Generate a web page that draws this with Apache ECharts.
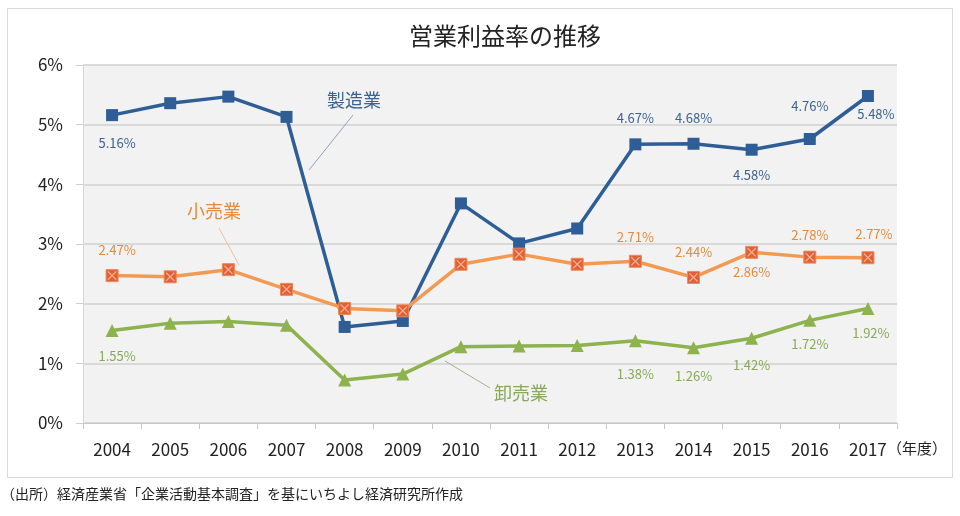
<!DOCTYPE html>
<html lang="ja">
  <head>
    <meta charset="UTF-8" />
    <title>営業利益率の推移</title>
    <script src="https://cdn.jsdelivr.net/npm/echarts@6/dist/echarts.min.js"></script>
    <style>
      html, body { margin: 0; padding: 0; background: #fff; }
    </style>
  </head>
  <body>
    <div id="main" style="width: 960px; height: 516px"></div>
    <script type="text/javascript">
      // data (% of sales)
      const years = ["2004", "2005", "2006", "2007", "2008", "2009", "2010",
        "2011", "2012", "2013", "2014", "2015", "2016", "2017"];
      const manufacturing = [5.16, 5.36, 5.47, 5.13, 1.61, 1.71, 3.68, 3.01, 3.26, 4.67, 4.68, 4.58, 4.76, 5.48];
      const retail = [2.47, 2.45, 2.57, 2.24, 1.92, 1.88, 2.66, 2.83, 2.66, 2.71, 2.44, 2.86, 2.78, 2.77];
      const wholesale = [1.55, 1.67, 1.70, 1.64, 0.72, 0.82, 1.28, 1.29, 1.30, 1.38, 1.26, 1.42, 1.72, 1.92];
      const yTicks = [0, 1, 2, 3, 4, 5, 6];

      // which points get a value label, and where it sits (px offset from the marker)
      const mfgLabelOffsets = { 0: [5, 28], 9: [0, -26], 10: [0, -26], 11: [0, 25], 12: [0, -33], 13: [8, 18] };
      const retailLabelOffsets = { 0: [5, -26], 9: [0, -24], 10: [0, -25], 11: [0, 20], 12: [0, -22], 13: [6, -24] };
      const wholesaleLabelOffsets = { 0: [5, 26], 9: [0, 33], 10: [0, 28], 11: [0, 27], 12: [0, 24], 13: [3, 25] };

      const FONT = "Noto Sans CJK JP";
      const BLUE = "#2f5e97";
      const ORANGE = "#f39a52";
      const GREEN = "#8db24e";

      function withLabels(values, offsets, color) {
        return values.map((v, i) => {
          const item = { value: v };
          if (offsets[i]) {
            item.label = {
              show: true,
              position: "inside",
              offset: offsets[i],
              formatter: (p) => p.value.toFixed(2) + "%",
              color: color,
              fontSize: 13,
              fontFamily: FONT,
            };
          }
          return item;
        });
      }

      let myChart = echarts.init(document.getElementById("main"));

      let options = {
        backgroundColor: "#fff",
        animation: false,
        textStyle: { fontFamily: FONT },
        title: {
          text: "営業利益率の推移",
          left: 500,
          top: 19,
          textAlign: "center",
          textStyle: { fontSize: 24, fontWeight: "normal", color: "#222", fontFamily: FONT },
        },
        grid: {
          left: 83,
          right: 63,
          top: 65,
          bottom: 93,
          show: true,
          backgroundColor: "#f2f2f2",
          borderWidth: 0,
        },
        xAxis: {
          type: "category",
          data: years,
          boundaryGap: true,
          axisLine: { lineStyle: { color: "#c8c8c8", width: 1 } },
          axisTick: { show: true, length: 6, lineStyle: { color: "#c8c8c8" } },
          axisLabel: { color: "#222", fontSize: 17, margin: 18, fontFamily: FONT },
        },
        yAxis: {
          type: "value",
          min: yTicks[0],
          max: yTicks[yTicks.length - 1],
          interval: 1,
          axisLine: { show: true, lineStyle: { color: "#d6d6d6" } },
          axisTick: { show: true, length: 7, lineStyle: { color: "#d0d0d0" } },
          axisLabel: { formatter: "{value}%", color: "#222", fontSize: 17, margin: 20, fontFamily: FONT },
          splitLine: { lineStyle: { color: "#d0d0d0", width: 1.5 } },
        },
        series: [
          {
            name: "製造業",
            type: "line",
            data: withLabels(manufacturing, mfgLabelOffsets, "#3b6290"),
            symbol: "rect",
            symbolSize: 12,
            lineStyle: { color: BLUE, width: 3.5 },
            itemStyle: { color: BLUE },
            z: 3,
          },
          {
            name: "小売業",
            type: "line",
            data: withLabels(retail, retailLabelOffsets, "#e58b3d"),
            symbol: "rect",
            symbolSize: 12,
            lineStyle: { color: ORANGE, width: 3.5 },
            itemStyle: { color: "#e0603c", borderColor: "#ee8a55", borderWidth: 1 },
            z: 4,
          },
          {
            // the cross drawn inside the retail markers
            name: "小売業X",
            type: "line",
            data: retail,
            symbol: "path://M1,0L5,4L9,0L10,1L6,5L10,9L9,10L5,6L1,10L0,9L4,5L0,1Z",
            symbolSize: 9,
            lineStyle: { opacity: 0 },
            itemStyle: { color: "#f6b088" },
            silent: true,
            z: 5,
          },
          {
            name: "卸売業",
            type: "line",
            data: withLabels(wholesale, wholesaleLabelOffsets, "#88a95a"),
            symbol: "triangle",
            symbolSize: 13,
            lineStyle: { color: GREEN, width: 3.5 },
            itemStyle: { color: GREEN },
            z: 2,
          },
        ],
        graphic: [
          // outer frame
          {
            type: "rect",
            shape: { x: 7.5, y: 8.5, width: 945, height: 469 },
            style: { fill: "none", stroke: "#d9d9d9", lineWidth: 1 },
            z: -1,
          },
          // series name callouts
          { type: "text", left: 327, top: 91, style: { text: "製造業", fill: "#3b6290", fontSize: 18, fontFamily: FONT }, z: 10 },
          { type: "line", shape: { x1: 353, y1: 115, x2: 309, y2: 170 }, style: { stroke: "#8fa3be", lineWidth: 1 }, z: 10 },
          { type: "text", left: 187, top: 202, style: { text: "小売業", fill: "#e58b3d", fontSize: 18, fontFamily: FONT }, z: 10 },
          { type: "line", shape: { x1: 219, y1: 228, x2: 239, y2: 265 }, style: { stroke: "#f0c09a", lineWidth: 1 }, z: 10 },
          { type: "text", left: 494, top: 384, style: { text: "卸売業", fill: "#88a95a", fontSize: 18, fontFamily: FONT }, z: 10 },
          { type: "line", shape: { x1: 445, y1: 361, x2: 490, y2: 388 }, style: { stroke: "#a9b08c", lineWidth: 1 }, z: 10 },
          // unit after the last year
          { type: "text", left: 887, top: 441, style: { text: "（年度）", fill: "#222", fontSize: 15, fontFamily: FONT }, z: 10 },
          // source note
          {
            type: "text",
            left: 1,
            top: 487,
            style: { text: "（出所）経済産業省「企業活動基本調査」を基にいちよし経済研究所作成", fill: "#222", fontSize: 14, fontFamily: FONT },
          },
        ],
      };

      myChart.setOption(options);
    </script>
  </body>
</html>
